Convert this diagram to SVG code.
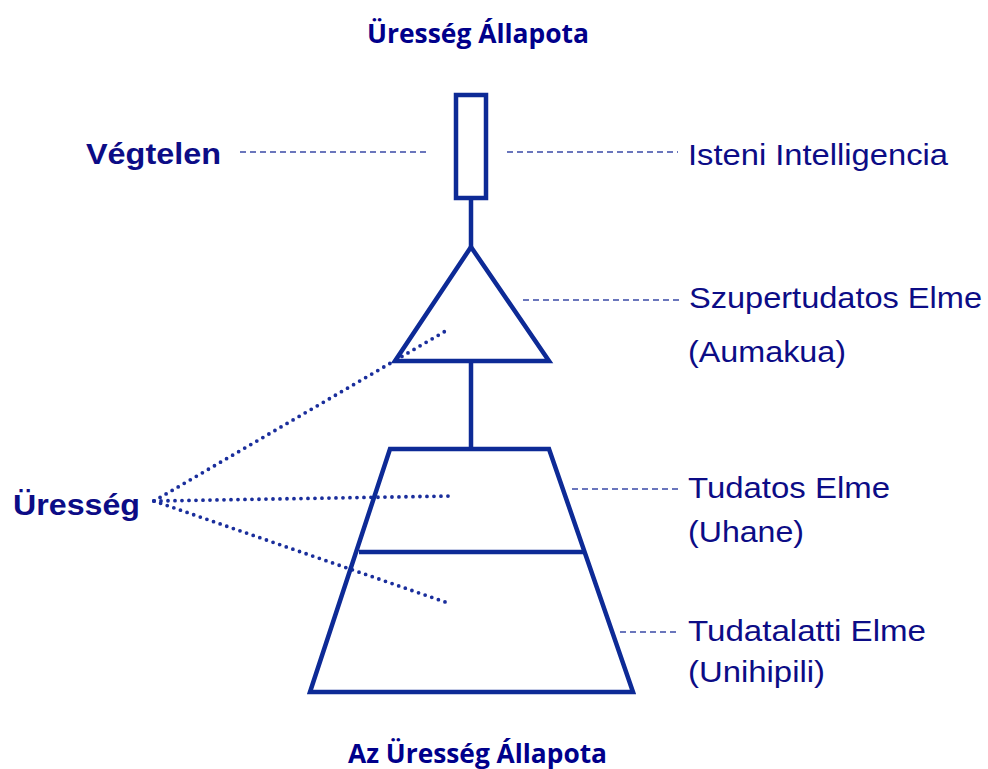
<svg xmlns="http://www.w3.org/2000/svg" width="988" height="769" viewBox="0 0 988 769">
<style>
.shape{fill:none;stroke:#0d2a96;stroke-width:4.5;stroke-linejoin:miter}
.dash{fill:none;stroke:#3a4aa6;stroke-width:1.6;stroke-dasharray:6 4}
.dot{fill:none;stroke:#1a2e9c;stroke-width:3.8;stroke-linecap:round;stroke-dasharray:0 7}
.lbl{font-family:"Liberation Sans",Arial,sans-serif;font-size:30px;fill:#0c0c86}
.bold{font-weight:bold}
.title{font-family:"Open Sans","Liberation Sans",sans-serif;font-weight:bold;font-size:27px;fill:#00008b}
</style>
<rect width="988" height="769" fill="#ffffff"/>
<text class="title" x="367" y="43" textLength="222" lengthAdjust="spacingAndGlyphs">Üresség Állapota</text>
<g id="connectors">
<line class="shape" x1="471" y1="198" x2="471" y2="247"/>
<line class="shape" x1="471" y1="361" x2="471" y2="449"/>
<line class="dash" x1="240" y1="152" x2="428" y2="152"/>
<line class="dash" x1="507" y1="152" x2="678" y2="152"/>
<line class="dash" x1="523" y1="300" x2="680" y2="300"/>
<line class="dash" x1="572" y1="489" x2="678" y2="489"/>
<line class="dash" x1="620" y1="632" x2="678" y2="632"/>
<line class="dot" x1="154" y1="501" x2="449" y2="329"/>
<line class="dot" x1="154" y1="501" x2="451" y2="496"/>
<line class="dot" x1="154" y1="501" x2="448" y2="603"/>
</g>
<g id="rect-vegtelen">
<rect class="shape" x="456" y="95" width="30" height="103"/>
</g>
<g id="triangle-szupertudatos">
<polygon class="shape" points="471,247 395,361 549,361"/>
</g>
<g id="trapezoid">
<polygon class="shape" points="390,449 549,449 633,692 310,692"/>
<line class="shape" x1="359" y1="552" x2="584" y2="552"/>
</g>
<g id="labels-left">
<text class="lbl bold" x="86" y="164" textLength="135" lengthAdjust="spacingAndGlyphs">Végtelen</text>
<text class="lbl bold" x="13" y="515" textLength="127" lengthAdjust="spacingAndGlyphs">Üresség</text>
</g>
<g id="labels-right">
<text class="lbl" x="688" y="165" textLength="260" lengthAdjust="spacingAndGlyphs">Isteni Intelligencia</text>
<text class="lbl" x="689" y="308" textLength="293" lengthAdjust="spacingAndGlyphs">Szupertudatos Elme</text>
<text class="lbl" x="688" y="362" textLength="158" lengthAdjust="spacingAndGlyphs">(Aumakua)</text>
<text class="lbl" x="688" y="498" textLength="202" lengthAdjust="spacingAndGlyphs">Tudatos Elme</text>
<text class="lbl" x="688" y="542" textLength="116" lengthAdjust="spacingAndGlyphs">(Uhane)</text>
<text class="lbl" x="688" y="641" textLength="238" lengthAdjust="spacingAndGlyphs">Tudatalatti Elme</text>
<text class="lbl" x="688" y="682" textLength="137" lengthAdjust="spacingAndGlyphs">(Unihipili)</text>
</g>
<text class="title" x="348" y="763" textLength="259" lengthAdjust="spacingAndGlyphs">Az Üresség Állapota</text>
</svg>
